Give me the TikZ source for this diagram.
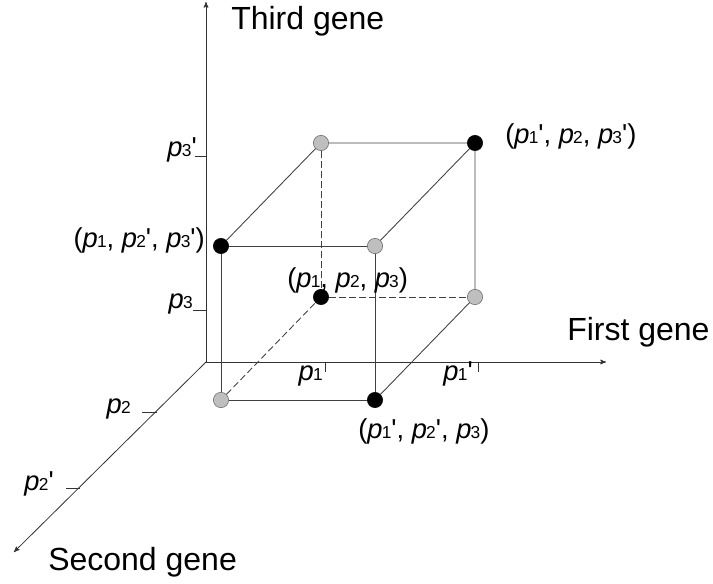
\documentclass[tikz,border=0pt]{standalone}
\usepackage{fontspec}
\setmainfont{Liberation Sans}
\usepackage{tikz}
\usetikzlibrary{arrows}

\newcommand{\gp}[1]{\textit{p}\kern-0.6pt{\fontsize{13}{13}\selectfont #1}}
\newcommand{\pr}{\textquotesingle}

\begin{document}
\begin{tikzpicture}[x={(0.75pt,0)},y={(0,-0.75pt)},>=stealth',node distance=115.5pt,
    blackdot/.style={circle,draw=black,fill=black,inner sep=0pt,minimum size=11.5pt},
    graydot/.style={circle,draw=black!60,fill=black!25,inner sep=0pt,minimum size=11.5pt},
    cubeedge/.style={draw=black!75,line width=0.65pt},
    hidden/.style={cubeedge,dash pattern=on 5pt off 2.5pt},
    geneaxis/.style={->,draw=black!80,line width=0.6pt},
    axistick/.style={draw=black!80,line width=0.6pt},
    lbl/.style={inner sep=0pt,font=\fontsize{20.5}{24}\selectfont},
    gene/.style={inner sep=0pt,font=\fontsize{24}{28}\selectfont}]
  \useasboundingbox (0,0) rectangle (713,584);

  % axes
  \coordinate (O) at (206,362);
  \coordinate (zend) at (206,2);
  \coordinate (xend) at (606,362);
  \coordinate (yend) at (14,552);
  \draw[geneaxis] (O) -- (zend);
  \draw[geneaxis] (O) -- (xend);
  \draw[geneaxis] (O) -- (yend);

  \node[gene,anchor=base west] (third) at (231,30) {Third gene};
  \node[gene,anchor=base west] (first) at (567,340) {First gene};
  \node[gene,anchor=base west] (second) at (48,570) {Second gene};

  % ticks
  \coordinate (t3a) at (206,310);
  \coordinate (t3b) at (206,156);
  \coordinate (t1a) at (325,362);
  \coordinate (t1b) at (478,362);
  \coordinate (t2a) at (157,412);
  \coordinate (t2b) at (80,488);
  \draw[axistick] (t3a) -- ++(-13,0);
  \draw[axistick] (t3b) -- ++(-11,0);
  \draw[axistick] (t1a) -- ++(0,10);
  \draw[axistick] (t1b) -- ++(0,10);
  \draw[axistick] (t2a) -- ++(-15,0);
  \draw[axistick] (t2b) -- ++(-14,0);

  \node[lbl,anchor=base east] (p3a) at (193,309) {\gp{3}};
  \node[lbl,anchor=base east] (p3b) at (197,157) {\gp{3}\pr};
  \node[lbl,anchor=base east] (p1a) at (323,380) {\gp{1}};
  \node[lbl,anchor=base east] (p1b) at (473,380) {\gp{1}\pr};
  \node[lbl,anchor=base east] (p2a) at (131,413) {\gp{2}};
  \node[lbl,anchor=base east] (p2b) at (54,490) {\gp{2}\pr};

  % cube
  \node[graydot] (v010) at (221,400) {};
  \node[blackdot] (v110) [right of=v010] {};
  \node[blackdot] (v011) [above of=v010] {};
  \node[graydot] (v111) [above of=v110] {};
  \node[blackdot] (v000) at (321,297) {};
  \node[graydot] (v100) [right of=v000] {};
  \node[graydot] (v001) [above of=v000] {};
  \node[blackdot] (v101) [above of=v100] {};

  \draw[cubeedge] (v010) -- (v110) -- (v111) -- (v011) -- (v010);
  \draw[cubeedge] (v011) -- (v001) -- (v101) -- (v111);
  \draw[cubeedge] (v101) -- (v100) -- (v110);
  \draw[hidden] (v010) -- (v000);
  \draw[hidden] (v001) -- (v000) -- (v100);

  \node[lbl,anchor=base west] (l101) at (505,144) {(\gp{1}\pr, \gp{2}, \gp{3}\pr)};
  \node[lbl,anchor=base east] (l011) at (205,248) {(\gp{1}, \gp{2}\pr, \gp{3}\pr)};
  \node[lbl,anchor=base west] (l000) at (287,287) {(\gp{1}, \gp{2}, \gp{3})};
  \node[lbl,anchor=base west] (l110) at (358,438) {(\gp{1}\pr, \gp{2}\pr, \gp{3})};
\end{tikzpicture}
\end{document}
